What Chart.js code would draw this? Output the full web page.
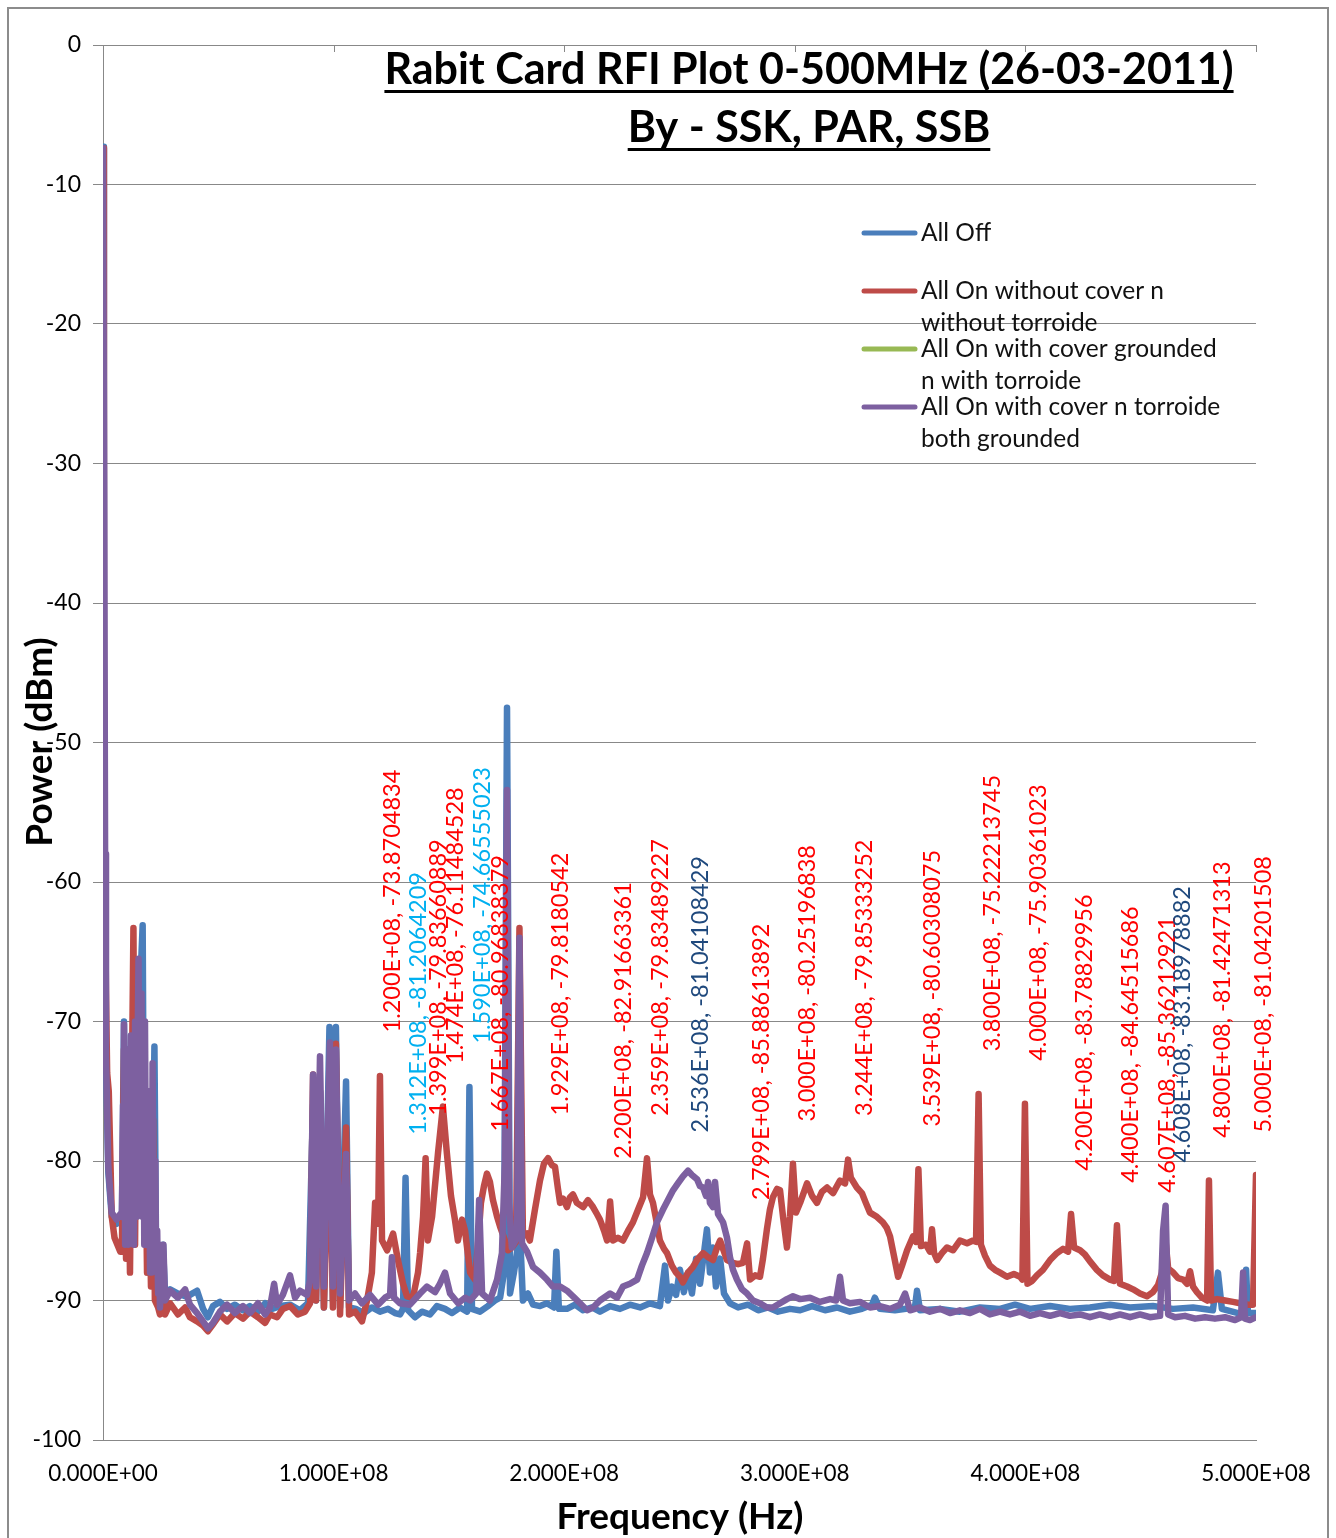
<!DOCTYPE html>
<html>
<head>
<meta charset="utf-8">
<script src="https://cdn.jsdelivr.net/npm/chart.js@4"></script>
<style>
  html, body { margin: 0; padding: 0; background: #ffffff; }
  #wrap { position: relative; width: 1336px; height: 1538px; }
  canvas { display: block; }
</style>
</head>
<body>
<div id="wrap"><canvas id="c" width="1336" height="1538"></canvas></div>
<script>
// ---------------- DATA (frequency in MHz, power in dBm) ----------------
const seriesNames = [
  "All Off",
  "All On without cover n without torroide",
  "All On with cover grounded n with torroide",
  "All On with cover n torroide both grounded"
];
const legendLines = [
  ["All Off"],
  ["All On without cover n", "without torroide"],
  ["All On with cover grounded", "n with torroide"],
  ["All On with cover n torroide", "both grounded"]
];

const allOff = [
  [0,-7.3],[0.4,-46],[0.8,-63],[1.3,-72.8],[2.3,-80.8],[3.8,-84],[5.9,-84.5],[7.5,-84],
  [8.2,-84],[9.1,-70],[10.0,-85],[10.8,-72],[11.7,-83],[12.6,-71],[13.4,-84],[14.3,-69],
  [15.2,-80],[16.0,-68],[17.2,-63.1],[17.8,-82],[18.6,-75],[19.5,-88],[20.4,-85],[21.2,-86],
  [22.3,-71.8],[23.0,-86],[23.9,-89],[24.7,-90],[26.0,-86],[26.9,-89.5],
  [29.1,-89.2],[32.5,-89.5],[35.6,-89.7],[37.7,-89.6],[40.8,-89.3],[43.4,-90.6],[45.5,-91.2],
  [47.7,-90.4],[50.7,-90.1],[53.8,-90.6],[57.2,-90.3],[60.7,-90.7],[63.7,-90.4],[67.2,-90.8],
  [70.3,-90.2],[73.3,-90.6],[76.8,-90.4],[81.1,-90.3],[85.4,-90.7],[88.9,-90.2],[91.1,-76],
  [92.4,-90],[94.1,-75],[95.8,-90.5],[98.2,-70.4],[99.7,-90],[101.0,-70.4],[102.8,-90.5],
  [105.4,-74.3],[106.7,-90.5],[109.7,-90.6],[113.2,-90.9],[116.6,-90.5],[120.1,-90.8],
  [123.6,-90.6],[126.6,-90.9],[128.8,-91],[130.1,-90.6],[131.2,-81.2],[132.3,-90.7],
  [135.3,-91.2],[138.3,-90.8],[141.8,-91],[144.8,-90.4],[148.3,-90.6],[151.3,-90.9],
  [154.8,-90.5],[157.9,-90.8],[158.9,-74.7],[160.0,-90.6],[163.5,-90.8],[166.9,-90.4],
  [170.0,-90],[172.2,-89.8],[173.9,-88],[175.2,-47.5],[176.5,-89.5],[178.2,-88],[179.5,-86.6],
  [180.8,-85],[182.1,-90],[184.3,-89.5],[186.5,-90.3],[189.5,-90.4],[192.5,-90.2],[195.6,-90.5],
  [196.6,-86.5],[197.7,-90.6],[201.2,-90.6],[204.7,-90.3],[208.2,-90.7],[212.1,-90.5],
  [215.5,-90.8],[219.9,-90.4],[224.2,-90.6],[228.5,-90.3],[232.9,-90.5],[237.2,-90.2],
  [241.5,-90.4],[243.7,-87.5],[245.0,-90],[246.7,-89],[248.5,-89.6],[250.2,-87.8],[251.9,-89.4],
  [253.7,-88],[255.4,-89.5],[257.2,-87],[258.9,-88.8],[260.6,-86.6],[261.9,-84.9],[263.2,-88],
  [264.5,-86.2],[265.8,-89],[267.6,-87],[269.3,-89.5],[271.9,-90.2],[275.4,-90.5],[279.7,-90.3],
  [284.1,-90.7],[288.4,-90.5],[292.7,-90.8],[297.9,-90.6],[302.3,-90.7],[307.5,-90.4],
  [313.1,-90.7],[318.3,-90.5],[323.9,-90.8],[329.1,-90.6],[333.5,-90.3],[334.7,-89.8],
  [336.9,-90.6],[343.4,-90.7],[352.1,-90.5],[353.0,-89.3],[354.3,-90.7],[363.0,-90.6],
  [371.6,-90.8],[380.3,-90.5],[389.0,-90.6],[395.5,-90.3],[402.0,-90.6],[410.7,-90.4],
  [419.3,-90.6],[428.0,-90.5],[436.7,-90.3],[445.4,-90.5],[455.3,-90.4],[464.0,-90.6],
  [472.7,-90.5],[481.3,-90.7],[483.5,-88],[485.2,-90.6],[492.2,-90.9],[494.8,-91],
  [495.7,-87.8],[496.5,-90.9],[500,-90.9]
];

const allOnNoCover = [
  [0,-7.4],[0.4,-44],[0.8,-60],[1.3,-68],[1.8,-73.7],[2.5,-75],[3.8,-84],[5.0,-85.5],[7.5,-86.5],
  [8.2,-86.5],[9.1,-72],[10.0,-87],[10.8,-75],[11.7,-88],[12.6,-73],[13.2,-63.3],[13.9,-86],
  [14.7,-70],[15.6,-82],[16.5,-69.5],[17.3,-80],[18.2,-76],[19.1,-88],[19.9,-80],[20.8,-89],
  [21.7,-77],[22.5,-90],[23.9,-90.5],[24.7,-91],[26.0,-88],[26.9,-91],
  [29.1,-90.2],[32.5,-91],[35.6,-90.5],[37.7,-91.2],[40.8,-91.5],[43.4,-91.8],[45.5,-92.2],
  [47.7,-91.7],[50.7,-91],[53.8,-91.5],[57.2,-90.9],[60.7,-91.3],[63.7,-90.8],[67.2,-91.2],
  [70.3,-91.6],[72.4,-91],[75.5,-91.2],[78.0,-90.6],[81.1,-90.4],[84.5,-91],[87.6,-90.8],
  [89.8,-90.2],[91.1,-73.8],[92.4,-90],[94.1,-75],[95.8,-90.5],[98.4,-76],[99.7,-90.5],
  [101.0,-71.6],[102.8,-91],[105.4,-77.6],[106.7,-91],[109.3,-90.8],[112.3,-91.5],[114.5,-90],
  [116.6,-88],[118.0,-83],[119.3,-84.5],[120.1,-73.9],[121.0,-85.7],[123.2,-86.4],[125.8,-85.2],
  [127.9,-87.1],[130.1,-88.8],[131.8,-89.7],[134.4,-89.8],[136.6,-88],[137.5,-86.6],[138.8,-84],
  [139.9,-79.8],[140.9,-85.7],[142.7,-84],[145.3,-79.4],[147.4,-76.1],[149.1,-79.4],[150.9,-82.5],
  [152.6,-84.2],[153.9,-85.7],[155.7,-84.2],[157.0,-85],[159.2,-88],[161.3,-88.5],[162.6,-86],
  [163.9,-83],[165.2,-81.8],[166.5,-80.9],[167.8,-81.5],[169.1,-82.8],[170.9,-84],[172.2,-84.7],
  [173.9,-85.5],[175.6,-86.4],[177.3,-86.2],[179.1,-85.8],[180.6,-63.3],[182.1,-85.4],
  [183.9,-85.2],[185.1,-85.7],[187.3,-83.5],[189.5,-81.4],[191.2,-80.2],[193.0,-79.8],
  [194.7,-80.3],[196.0,-80.4],[197.3,-82],[198.2,-83],[199.5,-82.7],[201.2,-83.3],[202.5,-82.6],
  [203.8,-82.4],[205.5,-83],[208.2,-83.3],[210.3,-82.8],[212.5,-83.3],[214.2,-83.8],[215.5,-84.2],
  [217.3,-85],[218.6,-85.7],[219.9,-82.9],[221.2,-85.7],[223.3,-85.5],[225.5,-85.7],[227.7,-85],
  [229.8,-84.4],[232.0,-83.5],[234.2,-82.6],[235.9,-79.8],[237.2,-82.4],[238.5,-83],[240.2,-84.5],
  [241.5,-85.7],[243.3,-86.3],[244.6,-86.6],[246.7,-87.5],[248.5,-88],[250.2,-88.3],[251.5,-88.7],
  [253.7,-88],[255.8,-87.6],[258.0,-87],[260.2,-86.6],[262.4,-86.9],[264.5,-87.1],[266.3,-86.2],
  [267.6,-85.7],[269.3,-86.5],[270.6,-87.1],[273.2,-87.3],[275.4,-87.4],[277.5,-87.3],
  [279.3,-85.9],[280.6,-88.5],[282.8,-88.2],[284.9,-88.3],[286.2,-87],[287.9,-84.9],[289.2,-83.5],
  [290.5,-82.6],[292.3,-82],[293.6,-82.1],[294.9,-84],[296.6,-86.2],[297.9,-84],[299.2,-80.2],
  [300.5,-83.7],[302.3,-83],[305.3,-81.6],[307.5,-82.5],[309.6,-83],[311.8,-82.2],[314.0,-81.9],
  [316.6,-82.3],[319.6,-81.4],[321.8,-81.6],[323.1,-79.9],[324.3,-81.2],[326.9,-81.9],
  [329.1,-82.3],[330.8,-83],[332.6,-83.7],[335.6,-84],[338.2,-84.4],[339.9,-84.8],[341.3,-85.4],
  [343.0,-86.8],[344.8,-88.3],[346.5,-87.5],[348.7,-86.4],[351.3,-85.4],[352.6,-85.8],
  [353.6,-80.6],[354.7,-86.1],[356.9,-86],[358.6,-86.5],[359.5,-84.9],[360.4,-86.6],[361.7,-87.1],
  [363.8,-86.6],[366.0,-86.2],[368.6,-86.4],[371.6,-85.7],[374.7,-85.9],[377.3,-85.7],
  [378.6,-85.8],[379.7,-75.2],[380.7,-86],[382.5,-86.8],[384.6,-87.5],[386.8,-87.8],[389.0,-88],
  [392.0,-88.3],[395.0,-88.1],[397.7,-88.3],[398.7,-88.5],[399.8,-75.9],[400.9,-88.8],
  [402.9,-88.6],[405.0,-88.2],[407.6,-87.8],[410.7,-87.1],[413.7,-86.6],[416.3,-86.3],
  [418.5,-86.5],[419.8,-83.8],[421.1,-86.2],[423.7,-86.4],[425.8,-86.7],[428.0,-87.2],
  [431.0,-87.8],[433.6,-88.2],[436.7,-88.5],[438.4,-88.6],[439.7,-84.6],[441.0,-88.8],
  [444.1,-89],[446.7,-89.2],[449.7,-89.5],[452.7,-89.7],[455.3,-89.4],[457.5,-88.9],[459.2,-88],
  [460.6,-85.4],[461.9,-87.7],[464.1,-88],[466.2,-88.4],[468.4,-88.5],[470.1,-88.8],[471.4,-87.9],
  [472.7,-89],[474.4,-89.4],[476.6,-89.8],[478.8,-90],[479.6,-81.4],[480.5,-90],[483.1,-89.9],
  [486.6,-90],[490.0,-90.1],[493.1,-90.2],[496.5,-90.3],[498.7,-90.3],[500,-81]
];

// hidden behind the purple trace in the picture; no separate samples readable
const allOnCoverGrounded = [];

const allOnBothGrounded = [
  [0,-7.4],[0.5,-32.5],[0.9,-58],[1.3,-72.3],[2.3,-80.4],[3.8,-83.7],[5.9,-84.2],[7.5,-83.8],
  [8.2,-84],[8.7,-76],[9.1,-70.2],[9.6,-86],[10.0,-78],[10.4,-72],[10.9,-86],[11.3,-74],
  [11.7,-84],[12.1,-71],[12.6,-82],[13.0,-76],[13.4,-86],[13.9,-70],[14.3,-80],[14.7,-84],
  [15.0,-72],[15.4,-65.5],[15.8,-78],[16.2,-82],[16.7,-68],[17.1,-84],[17.5,-72],[17.9,-86],
  [18.2,-70],[18.7,-84],[19.1,-86],[19.5,-77],[19.9,-75],[20.4,-88],[20.8,-80],[21.2,-88],
  [21.5,-73],[21.9,-84],[22.3,-87],[22.7,-80],[23.0,-87.5],[23.5,-85],[23.9,-89.5],[24.3,-86],
  [24.7,-90.5],[25.6,-88],[26.2,-86],[26.9,-90],
  [29.1,-89.3],[32.5,-89.8],[35.6,-89.2],[37.7,-90.3],[40.8,-90.9],[43.4,-91.5],
  [45.5,-92],[47.7,-91.6],[50.7,-90.8],[53.8,-90.3],[57.2,-90.9],[60.7,-90.4],[63.7,-90.9],
  [67.2,-90.2],[70.3,-91],[72.4,-90.5],[74.2,-88.8],[75.5,-90.3],[78.0,-89.6],[81.1,-88.2],
  [83.3,-89.8],[85.4,-89.3],[88.5,-89.6],[89.8,-88.5],[91.1,-73.8],[92.4,-89],[94.1,-72.5],
  [95.8,-89],[98.4,-71.5],[99.7,-89],[101.0,-72],[102.8,-89.5],[105.4,-79.5],[106.7,-90],
  [109.3,-89.5],[112.3,-90.2],[115.8,-89.6],[119.3,-90.3],[122.3,-89.8],[124.5,-89.6],
  [125.3,-86.9],[126.2,-89.8],[128.8,-90.2],[133.1,-90.3],[137.5,-89.5],[140.5,-89],[144.0,-89.4],
  [146.1,-88.8],[148.3,-88],[150.5,-89.5],[154.0,-90.2],[157.0,-89.8],[159.2,-90],[161.8,-89.5],
  [163.1,-82.8],[164.4,-89.5],[167.8,-90],[170.9,-88.5],[173.0,-86.6],[174.3,-80],[175.2,-53.4],
  [176.1,-83],[177.3,-86.2],[179.5,-85.5],[180.6,-64],[181.7,-85.9],[183.9,-86.5],[186.5,-87.6],
  [189.5,-88],[192.5,-88.5],[195.1,-89],[198.2,-89],[201.2,-89.3],[203.8,-89.7],[206.9,-90.2],
  [209.9,-90.7],[212.5,-90.5],[215.5,-90],[219.9,-89.5],[222.9,-89.8],[225.5,-89],[228.5,-88.8],
  [231.6,-88.5],[233.7,-87.5],[235.9,-86.6],[238.1,-85.5],[240.2,-84.4],[242.8,-83.5],[245.0,-82.8],
  [247.2,-82.1],[249.3,-81.6],[251.5,-81.1],[253.7,-80.7],[255.4,-81],[257.6,-81.3],[258.9,-81.8],
  [260.2,-81.9],[261.5,-82.5],[262.4,-81.5],[263.2,-83],[264.5,-83.3],[265.4,-81.5],[266.7,-83.8],
  [268.9,-84.4],[270.6,-85.5],[271.9,-86.9],[273.2,-87.8],[274.9,-88.5],[277.1,-89.2],
  [279.3,-89.5],[281.9,-90],[284.9,-90.2],[287.9,-90.5],[290.5,-90.5],[293.6,-90.2],[296.6,-89.9],
  [299.2,-89.7],[302.3,-89.9],[306.6,-89.8],[310.9,-90.1],[315.3,-89.9],[317.9,-90],[319.6,-88.3],
  [320.9,-90],[323.9,-90.2],[328.3,-90.1],[332.6,-90.5],[336.9,-90.4],[341.3,-90.6],[345.6,-90.3],
  [347.8,-89.5],[350.0,-90.7],[354.3,-90.5],[358.6,-90.8],[363.0,-90.6],[367.3,-90.9],
  [371.6,-90.7],[376.0,-90.9],[380.3,-90.6],[384.6,-91],[389.0,-90.8],[393.3,-91],[397.7,-90.8],
  [402.0,-91.1],[406.3,-90.9],[410.7,-91.1],[415.0,-90.9],[419.3,-91.1],[423.7,-91],[428.0,-91.2],
  [432.3,-91],[436.7,-91.2],[441.0,-91],[445.4,-91.2],[449.7,-91],[454.0,-91.2],[458.4,-91.1],
  [459.7,-85],[460.8,-83.2],[461.9,-91],[464.9,-91.2],[469.2,-91.1],[473.6,-91.3],[477.9,-91.2],
  [482.2,-91.3],[486.6,-91.2],[490.9,-91.4],[493.5,-91.2],[494.4,-88],[495.2,-91.3],[497.4,-91.4],
  [500,-91.2]
];

// Peak data labels: frequency (MHz), value (dBm), which colour group
const labelFreqs = [120.0, 131.2, 139.9, 147.4, 159.0, 166.7, 192.9, 220.0, 235.9, 253.6,
                    279.9, 300.0, 324.4, 353.9, 380.0, 400.0, 420.0, 440.0, 460.7, 460.8, 480.0, 500.0];
const labelValues = [-73.8704834, -81.2064209, -79.83660889, -76.11484528, -74.66555023, -80.96838379,
                     -79.8180542, -82.91663361, -79.83489227, -81.04108429, -85.88613892, -80.25196838,
                     -79.85333252, -80.60308075, -75.22213745, -75.90361023, -83.78829956, -84.64515686,
                     -85.36212921, -83.18978882, -81.42471313, -81.04201508];
const labelGroups = ["red","light","red","red","light","red","red","red","red","dark",
                     "red","red","red","red","red","red","red","red","red","dark","red","red"];

const yTicks = [0, -10, -20, -30, -40, -50, -60, -70, -80, -90, -100];
const xTicksMHz = [0, 100, 200, 300, 400, 500];

const chartTitle = ["Rabit Card RFI Plot 0-500MHz (26-03-2011)", "By - SSK, PAR, SSB"];
const xTitle = "Frequency (Hz)";
const yTitle = "Power (dBm)";

// ---------------- STYLE ----------------
const seriesColors = ["#4A7EBB", "#BE4B48", "#98B954", "#7D60A0"];
const labelColors = { red: "#FF0000", light: "#00B0F0", dark: "#1F497D" };
// small horizontal nudges (px) where two labels would collide
const labelNudge = [0,0,0,0,0,0,0,0,0,0,0,0,0,0,0,0,0,0,-11,4,0,-6];
const FONT = "Lato, 'Open Sans', sans-serif";

function sci(mhz) {
  const v = mhz * 1e6;
  if (v === 0) return "0.000E+00";
  const e = Math.floor(Math.log10(Math.abs(v)) + 1e-9);
  const m = v / Math.pow(10, e);
  return m.toFixed(3) + "E" + (e < 0 ? "-" : "+") + String(Math.abs(e)).padStart(2, "0");
}
const toXY = arr => arr.map(p => ({ x: p[0], y: p[1] }));

const overlay = {
  id: "overlay",
  beforeDraw(chart) {
    const ctx = chart.ctx;
    ctx.save();
    ctx.fillStyle = "#ffffff";
    ctx.fillRect(0, 0, chart.width, chart.height);
    ctx.strokeStyle = "#8c8c8c";
    ctx.lineWidth = 2;
    ctx.strokeRect(8, 8, 1320, 1560);
    ctx.restore();
  },
  afterDatasetsDraw(chart) {
    const ctx = chart.ctx;
    const xs = chart.scales.x, ys = chart.scales.y;
    const ca = chart.chartArea;
    ctx.save();
    // top tick marks
    ctx.strokeStyle = "#888888";
    ctx.lineWidth = 1;
    xTicksMHz.forEach(v => {
      const px = Math.round(xs.getPixelForValue(v)) + 0.5;
      ctx.beginPath(); ctx.moveTo(px, ca.top); ctx.lineTo(px, ca.top + 7); ctx.stroke();
    });
    // peak labels
    ctx.font = "23.5px " + FONT;
    ctx.textAlign = "left";
    ctx.textBaseline = "middle";
    labelFreqs.forEach((f, i) => {
      const px = xs.getPixelForValue(f) + 13 + labelNudge[i];
      const py = ys.getPixelForValue(labelValues[i]) - 43;
      ctx.save();
      ctx.translate(px, py);
      ctx.rotate(-Math.PI / 2);
      ctx.fillStyle = labelColors[labelGroups[i]];
      ctx.fillText(sci(f) + ", " + labelValues[i], 0, 0);
      ctx.restore();
    });
    // title
    ctx.fillStyle = "#000000";
    ctx.textAlign = "center";
    ctx.textBaseline = "alphabetic";
    ctx.font = "bold 43px " + FONT;
    const tcx = 809;
    [[chartTitle[0], 84], [chartTitle[1], 142]].forEach(([t, by]) => {
      ctx.fillText(t, tcx, by);
      const w = ctx.measureText(t).width;
      ctx.fillRect(tcx - w / 2, by + 6, w, 3);
    });
    // legend
    const rows = [233, 291, 349, 407];
    ctx.font = "24.5px " + FONT;
    ctx.textAlign = "left";
    ctx.textBaseline = "middle";
    rows.forEach((ry, i) => {
      ctx.strokeStyle = seriesColors[i];
      ctx.lineWidth = 5;
      ctx.lineCap = "round";
      ctx.beginPath(); ctx.moveTo(864, ry); ctx.lineTo(915, ry); ctx.stroke();
      ctx.fillStyle = "#111111";
      legendLines[i].forEach((t, k) => ctx.fillText(t, 921, ry + k * 32));
    });
    // axis titles
    ctx.font = "bold 37px " + FONT;
    ctx.textAlign = "center";
    ctx.textBaseline = "middle";
    ctx.fillStyle = "#000000";
    ctx.fillText(xTitle, 680, 1517);
    ctx.save();
    ctx.translate(40, 742);
    ctx.rotate(-Math.PI / 2);
    ctx.fillText(yTitle, 0, 0);
    ctx.restore();
    ctx.restore();
  }
};

const datasets = [
  { label: seriesNames[3], data: toXY(allOnBothGrounded), borderColor: seriesColors[3] },
  { label: seriesNames[2], data: toXY(allOnCoverGrounded), borderColor: seriesColors[2] },
  { label: seriesNames[1], data: toXY(allOnNoCover), borderColor: seriesColors[1] },
  { label: seriesNames[0], data: toXY(allOff), borderColor: seriesColors[0] }
].map(d => Object.assign(d, {
  borderWidth: 6.5, pointRadius: 0, tension: 0, fill: false,
  borderJoinStyle: "round", borderCapStyle: "round", spanGaps: true
}));

new Chart(document.getElementById("c"), {
  type: "line",
  data: { datasets },
  plugins: [overlay],
  options: {
    responsive: false,
    animation: false,
    devicePixelRatio: 1,
    layout: { padding: { top: 45, right: 80, left: 0, bottom: 0 } },
    plugins: { legend: { display: false }, tooltip: { enabled: false }, title: { display: false } },
    scales: {
      x: {
        type: "linear", min: 0, max: 500,
        afterFit: s => { s.height = 98; },
        afterBuildTicks: s => { s.ticks = xTicksMHz.map(v => ({ value: v })); },
        ticks: { callback: v => sci(v), font: { family: FONT, size: 22.5 }, color: "#000000", padding: 20, maxRotation: 0 },
        grid: { display: true, drawOnChartArea: false, drawTicks: false, color: "#888888" },
        border: { display: true, color: "#888888", width: 1 }
      },
      y: {
        type: "linear", min: -100, max: 0,
        afterFit: s => { s.width = 103; },
        afterBuildTicks: s => { s.ticks = yTicks.map(v => ({ value: v })); },
        ticks: { font: { family: FONT, size: 23 }, color: "#000000", padding: 12 },
        grid: { color: "#888888", lineWidth: 1, tickLength: 10 },
        border: { display: true, color: "#888888", width: 1 }
      }
    }
  }
});
</script>
</body>
</html>
